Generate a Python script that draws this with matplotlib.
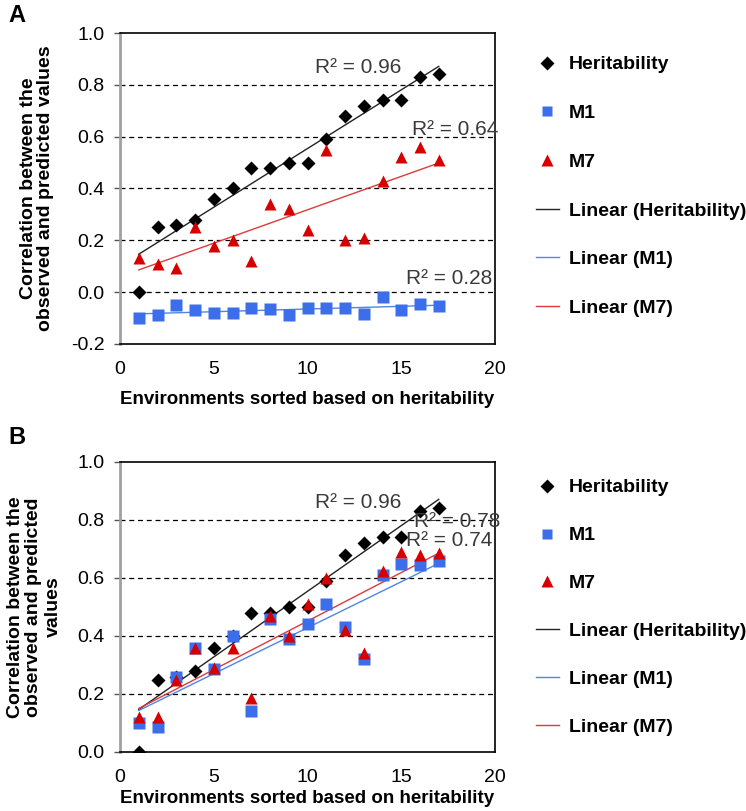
import numpy as np
import matplotlib
matplotlib.use("Agg")
import matplotlib.pyplot as plt
from matplotlib.lines import Line2D

plt.rcParams['font.family'] = ['Liberation Sans', 'DejaVu Sans']

env = np.arange(1, 18)
heritability = [0.00, 0.25, 0.26, 0.28, 0.36, 0.40, 0.48, 0.48, 0.50, 0.50,
                0.59, 0.68, 0.72, 0.74, 0.74, 0.83, 0.84]
m1_a = [-0.10, -0.09, -0.05, -0.07, -0.08, -0.08, -0.06, -0.065, -0.09, -0.06,
        -0.06, -0.06, -0.085, -0.02, -0.07, -0.045, -0.055]
m7_a = [0.13, 0.11, 0.095, 0.25, 0.18, 0.20, 0.12, 0.34, 0.32, 0.24,
        0.55, 0.20, 0.21, 0.43, 0.52, 0.56, 0.51]
m1_b = [0.10, 0.085, 0.26, 0.36, 0.285, 0.40, 0.14, 0.46, 0.39, 0.44,
        0.51, 0.43, 0.32, 0.61, 0.65, 0.645, 0.66]
m7_b = [0.12, 0.12, 0.25, 0.36, 0.29, 0.36, 0.185, 0.47, 0.40, 0.51,
        0.60, 0.42, 0.34, 0.625, 0.69, 0.68, 0.685]

r2_a = ["R² = 0.96", "R² = 0.64", "R² = 0.28"]
r2_b = ["R² = 0.96", "R² = 0.78", "R² = 0.74"]

C_H, C_M1, C_M7 = '#000000', '#3C6EEB', '#D60000'
L_H, L_M1, L_M7 = '#222222', '#4F86E6', '#E0393B'

W, H = 746, 811
fig = plt.figure(figsize=(W / 100, H / 100), dpi=100)


def px_axes(left, top, right, bottom):
    return fig.add_axes([left / W, 1 - bottom / H, (right - left) / W, (bottom - top) / H])


def draw(ax, m1, m7, ymin, grid_vals, r2_texts, r2_pos, xlabelpad):
    ax.set_xlim(0, 20)
    ax.set_ylim(ymin, 1.0)
    for g in grid_vals:
        ax.axhline(g, color='black', lw=0.9, ls=(0, (4, 3)), zorder=1)
    series = [(heritability, 'D', C_H, L_H, 'Heritability', 7.5),
              (m1, 's', C_M1, L_M1, 'M1', 8),
              (m7, '^', C_M7, L_M7, 'M7', 9)]
    for ys, mk, c, lc, lab, ms in series:
        ax.plot(env, ys, ls='none', marker=mk, color=c, ms=ms, mec='none', zorder=3)
    for ys, mk, c, lc, lab, ms in series:
        k, b = np.polyfit(env, ys, 1)
        xs = np.array([env[0], env[-1]])
        ax.plot(xs, k * xs + b, color=lc, lw=1.0, zorder=2)
    for t, (x, y) in zip(r2_texts, r2_pos):
        ax.text(x, y, t, ha='center', va='center', fontsize=15, color='#3A3A3A', zorder=4)
    ax.set_xticks([0, 5, 10, 15, 20])
    ax.set_yticks(np.round(np.arange(ymin, 1.0001, 0.2), 1))
    ax.yaxis.set_major_formatter(matplotlib.ticker.FormatStrFormatter('%.1f'))
    ax.tick_params(axis='x', length=0, pad=12, labelsize=14)
    ax.tick_params(axis='y', length=4, width=1, color='#555555', pad=7, labelsize=14)
    for s in ['top', 'right', 'bottom']:
        ax.spines[s].set_color('black')
        ax.spines[s].set_linewidth(1.2)
    ax.spines['left'].set_color('#A0A0A0')
    ax.spines['left'].set_linewidth(2)
    ax.set_xlabel('Environments sorted based on heritability', fontsize=13.5,
                  fontweight='bold', labelpad=xlabelpad)
    handles = [Line2D([], [], ls='none', marker=mk, color=c, ms=ms * 0.9, mec='none')
               for ys, mk, c, lc, lab, ms in series]
    handles += [Line2D([], [], color=lc, lw=1.0) for ys, mk, c, lc, lab, ms in series]
    labels = ['Heritability', 'M1', 'M7', 'Linear (Heritability)', 'Linear (M1)', 'Linear (M7)']
    return handles, labels


axA = px_axes(120, 33, 495, 344)
hA, lA = draw(axA, m1_a, m7_a, -0.2, [0.0, 0.2, 0.4, 0.6, 0.8], r2_a,
              [(12.7, 0.865), (17.9, 0.627), (17.55, 0.054)], 9.5)
axB = px_axes(120, 462, 495, 752)
hB, lB = draw(axB, m1_b, m7_b, 0.0, [0.2, 0.4, 0.6, 0.8], r2_b,
              [(12.7, 0.862), (17.97, 0.795), (17.55, 0.730)], 3)

for ax, h, l, top, sp in [(axA, hA, lA, 48, 1.60), (axB, hB, lB, 471, 1.56)]:
    fig.legend(h, l, loc='upper left', bbox_to_anchor=(528 / W, 1 - top / H),
               frameon=False, prop={'weight': 'bold', 'size': 14},
               handlelength=1.2, handletextpad=0.5, labelspacing=sp, borderaxespad=0)

fig.text(37 / W, 1 - 188 / H, 'Correlation between the\nobserved and predicted values',
         rotation=90, ha='center', va='center', fontsize=14, fontweight='bold',
         multialignment='center', linespacing=1.0)
fig.text(34 / W, 1 - 607 / H, 'Correlation between the\nobserved and predicted\nvalues',
         rotation=90, ha='center', va='center', fontsize=14, fontweight='bold',
         multialignment='center', linespacing=1.15)

fig.text(8 / W, 1 - 16 / H, 'A', fontsize=17, fontweight='bold', ha='left', va='center')
fig.text(8 / W, 1 - 437 / H, 'B', fontsize=17, fontweight='bold', ha='left', va='center')

fig.savefig('out.png', dpi=100)
